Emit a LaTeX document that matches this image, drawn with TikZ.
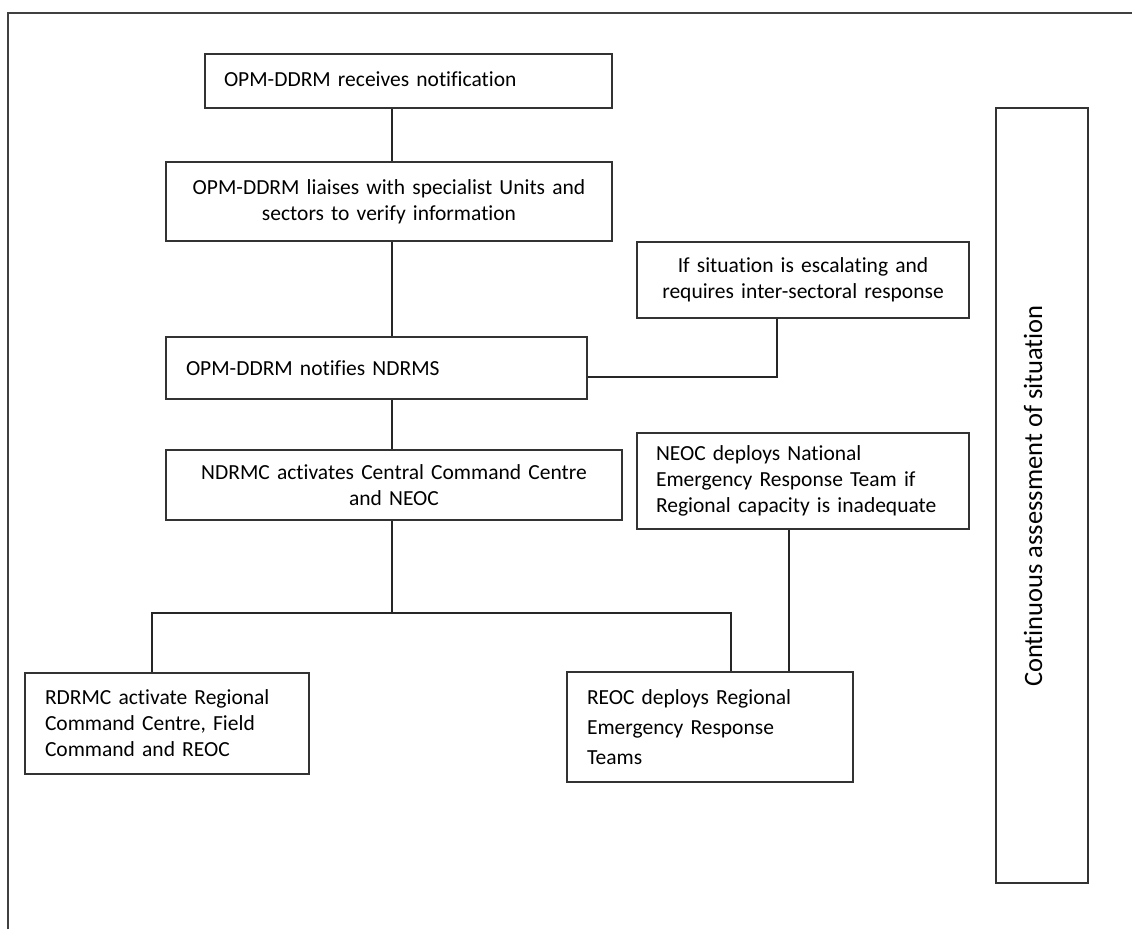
\documentclass[tikz,border=0pt]{standalone}
\usepackage{fontspec}
\setmainfont[Ligatures=NoCommon]{Carlito}
\begin{document}
\begin{tikzpicture}[x=1pt,y=-1pt,
  box/.style={draw=black!80,line width=1.5pt,rectangle,inner sep=0pt,font=\fontsize{21.5}{26}\selectfont},
  conn/.style={draw=black!85,line width=1.3pt}]
\useasboundingbox (0,0) rectangle (1132,929);
\draw[draw=black!75,line width=1.6pt] (8,929) -- (8,13) -- (1132,13);
\node[box,minimum width=407,minimum height=54,text width=369,align=left] (b1) at (408.5,81) {OPM-DDRM receives notification\vphantom{p}\\[-3pt]};
\node[box,minimum width=446,minimum height=79,text width=430,align=center] (b2) at (389,201.5) {OPM-DDRM liaises with specialist Units and\\sectors to verify information};
\node[box,minimum width=332,minimum height=76,text width=320,align=center] (b3) at (803,280) {If situation is escalating and\\requires inter-sectoral response};
\node[box,minimum width=421,minimum height=62,text width=381,align=left] (b4) at (376.5,368) {OPM-DDRM notifies NDRMS\\[-12pt]};
\node[box,minimum width=456,minimum height=70,text width=440,align=center] (b5) at (394,485) {NDRMC activates Central Command Centre\\and NEOC};
\node[box,minimum width=332,minimum height=96,text width=294,align=left] (b6) at (803,481) {NEOC deploys National\\Emergency Response Team if\\Regional capacity is inadequate};
\node[box,minimum width=284,minimum height=101,text width=244,align=left] (b7) at (167,723.5) {RDRMC activate Regional\\Command Centre, Field\\Command and REOC};
\node[box,minimum width=286,minimum height=110,text width=246,align=left,font=\fontsize{21.5}{30}\selectfont] (b8) at (710,727) {REOC deploys Regional\\Emergency Response\\Teams};
\node[box,minimum width=92,minimum height=775] (b9) at (1042,495.5) {};
\node[rotate=90,font=\fontsize{26.5}{30}\selectfont] (t9) at (1033,496) {Continuous assessment of situation};
\draw[conn] (b1.south -| 392,0) -- (b2.north -| 392,0);
\draw[conn] (b2.south -| 392,0) -- (b4.north -| 392,0);
\draw[conn] (b4.east |- 0,377) -| (b3.south -| 777,0);
\draw[conn] (b4.south -| 392,0) -- (b5.north -| 392,0);
\coordinate (split) at (392,613);
\draw[conn] (b5.south -| split) -- (split);
\draw[conn] (b7.north -| 152,0) |- (split) -| (b8.north -| 731,0);
\draw[conn] (b6.south -| 789,0) -- (b8.north -| 789,0);
\end{tikzpicture}
\end{document}
